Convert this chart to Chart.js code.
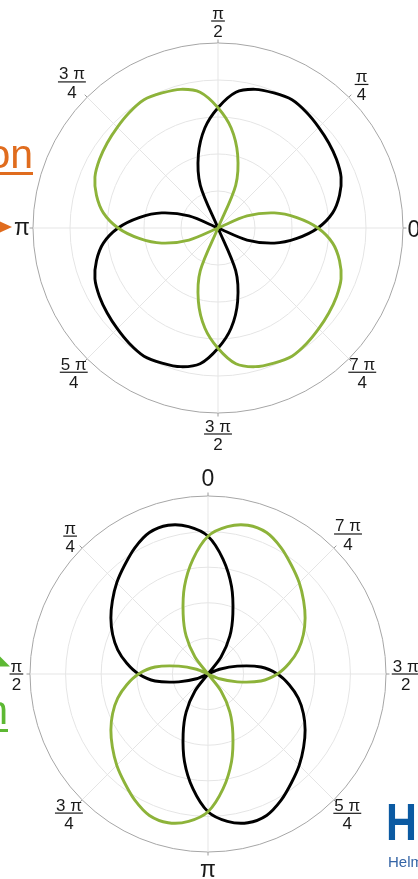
<!DOCTYPE html>
<html>
<head>
<meta charset="utf-8">
<script src="https://cdn.jsdelivr.net/npm/chart.js@4/dist/chart.umd.min.js"></script>
<style>
  html, body { margin: 0; padding: 0; background: #fff; }
  body { width: 418px; height: 879px; position: relative; overflow: hidden; font-family: "Liberation Sans", Arial, sans-serif; }
  canvas { position: absolute; left: 0; }
  #topPlot { top: 0; }
  #bottomPlot { top: 450px; }
  .word { position: absolute; font-size: 41px; line-height: 40px; white-space: nowrap; }
  .rule { position: absolute; height: 2.5px; }
  #logoH { position: absolute; left: 386px; top: 797px; font: bold 51px/51px "Liberation Sans", Arial, sans-serif; color: #0b5aa2; transform: scaleX(0.84); transform-origin: left top; }
  #logoText { position: absolute; left: 388px; top: 854px; font: 15px/15px "Liberation Sans", Arial, sans-serif; color: #3565a6; white-space: nowrap; }
</style>
</head>
<body>
<canvas id="topPlot" width="418" height="450"></canvas>
<canvas id="bottomPlot" width="418" height="429"></canvas>

<div class="word" style="right:385px; top:134px; color:#e06c1e;">on</div>
<div class="rule" style="left:0; top:172px; width:33px; background:#e06c1e;"></div>
<svg style="position:absolute; left:0; top:0;" width="20" height="240">
  <polygon points="0,221.5 12,227 0,232.5" fill="#e06c1e"/>
</svg>

<div class="word" style="right:410px; top:690px; color:#5db833;">n</div>
<div class="rule" style="left:0; top:729px; width:8px; background:#5db833;"></div>
<svg style="position:absolute; left:0; top:650px;" width="20" height="20">
  <polygon points="0,6.5 10,16.5 0,16.5" fill="#5db833"/>
</svg>

<div id="logoH">H</div>
<div id="logoText">Helmholtz</div>

<script>
// angle samples in degrees, counter-clockwise from the zero direction
const angles = [0, 7.5, 15, 22.5, 30, 37.5, 45, 52.5, 60, 67.5, 75, 82.5,
  90, 97.5, 105, 112.5, 120, 127.5, 135, 142.5, 150, 157.5, 165, 172.5,
  180, 187.5, 195, 202.5, 210, 217.5, 225, 232.5, 240, 247.5, 255, 262.5,
  270, 277.5, 285, 292.5, 300, 307.5, 315, 322.5, 330, 337.5, 345, 352.5];

// upper plot, radius (outer ring = 1)
const topBlack = [0.54, 0.625, 0.68, 0.72, 0.74, 0.755, 0.77, 0.787, 0.80, 0.79, 0.776, 0.74,
  0.65, 0.545, 0.41, 0.25, 0, 0, 0, 0, 0, 0.17, 0.315, 0.43,
  0.54, 0.625, 0.68, 0.72, 0.74, 0.755, 0.77, 0.787, 0.80, 0.79, 0.776, 0.74,
  0.65, 0.545, 0.41, 0.25, 0, 0, 0, 0, 0, 0.17, 0.315, 0.43];
const topGreen = [0.54, 0.43, 0.315, 0.17, 0, 0, 0, 0, 0, 0.25, 0.41, 0.545,
  0.65, 0.74, 0.776, 0.79, 0.80, 0.787, 0.77, 0.755, 0.74, 0.72, 0.68, 0.625,
  0.54, 0.43, 0.315, 0.17, 0, 0, 0, 0, 0, 0.25, 0.41, 0.545,
  0.65, 0.74, 0.776, 0.79, 0.80, 0.787, 0.77, 0.755, 0.74, 0.72, 0.68, 0.625];

// lower plot
const bottomBlack = [0.774, 0.835, 0.865, 0.86, 0.82, 0.77, 0.725, 0.677, 0.63, 0.58, 0.525, 0.46,
  0.39, 0.30, 0.17, 0.07, 0, 0, 0, 0.12, 0.245, 0.365, 0.51, 0.65,
  0.774, 0.835, 0.865, 0.86, 0.82, 0.77, 0.725, 0.677, 0.63, 0.58, 0.525, 0.46,
  0.39, 0.30, 0.17, 0.07, 0, 0, 0, 0.12, 0.245, 0.365, 0.51, 0.65];
const bottomGreen = [0.774, 0.65, 0.51, 0.365, 0.245, 0.12, 0, 0, 0, 0.07, 0.17, 0.30,
  0.39, 0.46, 0.525, 0.58, 0.63, 0.677, 0.725, 0.77, 0.82, 0.86, 0.865, 0.835,
  0.774, 0.65, 0.51, 0.365, 0.245, 0.12, 0, 0, 0, 0.07, 0.17, 0.30,
  0.39, 0.46, 0.525, 0.58, 0.63, 0.677, 0.725, 0.77, 0.82, 0.86, 0.865, 0.835];

// axis labels every 45 degrees
const tickAngles = [0, 45, 90, 135, 180, 225, 270, 315];
const topTickLabels = ['0', 'π/4', 'π/2', '3 π/4', 'π', '5 π/4', '3 π/2', '7 π/4'];
const bottomTickLabels = ['0', 'π/4', 'π/2', '3 π/4', 'π', '5 π/4', '3 π/2', '7 π/4'];

const STEP = 7.5;
const N = angles.length;
const GREEN = '#8db33a';
const FONT = '"Liberation Sans", Arial, sans-serif';

// radar indices run clockwise, so walk the angle list backwards
function radarIndex(deg) {
  return (N - Math.round(deg / STEP)) % N;
}
function toRadar(values) {
  return values.map((v, i) => values[(N - i) % N]);
}

function drawTickLabel(ctx, text, x, y) {
  const parts = text.split('/');
  ctx.fillStyle = '#1a1a1a';
  ctx.textAlign = 'center';
  ctx.textBaseline = 'alphabetic';
  if (parts.length === 1) {
    ctx.font = '23px ' + FONT;
    const m = ctx.measureText(text);
    ctx.fillText(text, x, y + (m.actualBoundingBoxAscent - m.actualBoundingBoxDescent) / 2);
    return;
  }
  ctx.font = '17px ' + FONT;
  const w = ctx.measureText(parts[0]).width + 2;
  ctx.fillText(parts[0], x, y - 2.5);
  ctx.fillText(parts[1], x, y + 16);
  ctx.fillRect(x - w / 2, y - 0.6, w, 1.2);
}

const polarLabels = {
  id: 'polarLabels',
  afterDraw(chart, args, opts) {
    const scale = chart.scales.r;
    const ctx = chart.ctx;
    ctx.save();
    tickAngles.forEach((deg, k) => {
      const idx = radarIndex(deg);
      // short outward tick on the outer ring
      const a = scale.getPointPosition(idx, scale.drawingArea);
      const b = scale.getPointPosition(idx, scale.drawingArea + 3.5);
      ctx.strokeStyle = '#9a9a9a';
      ctx.lineWidth = 1;
      ctx.beginPath();
      ctx.moveTo(a.x, a.y);
      ctx.lineTo(b.x, b.y);
      ctx.stroke();
      const p = scale.getPointPosition(idx, scale.drawingArea + opts.gaps[k]);
      drawTickLabel(ctx, opts.labels[k], p.x, p.y);
    });
    ctx.restore();
  }
};

function makePolar(canvasId, black, green, startAngle, tickLabels, gaps, padding) {
  const ctx = document.getElementById(canvasId).getContext('2d');
  return new Chart(ctx, {
    type: 'radar',
    data: {
      labels: toRadar(angles).map(String),
      datasets: [
        { data: toRadar(green), borderColor: GREEN },
        { data: toRadar(black), borderColor: '#000000' }
      ]
    },
    options: {
      responsive: false,
      animation: false,
      events: [],
      layout: { padding: padding },
      elements: {
        line: { borderWidth: 2.9, tension: 0.3, fill: false, borderJoinStyle: 'round' },
        point: { radius: 0, hoverRadius: 0 }
      },
      plugins: {
        legend: { display: false },
        tooltip: { enabled: false },
        polarLabels: { labels: tickLabels, gaps: gaps }
      },
      scales: {
        r: {
          min: 0,
          max: 1,
          startAngle: startAngle,
          ticks: { display: false, stepSize: 0.2 },
          pointLabels: { display: false },
          grid: {
            circular: true,
            color: c => c.index === 5 ? '#a6a6a6' : '#e5e5e5',
            lineWidth: 1
          },
          angleLines: {
            color: '#e5e5e5',
            lineWidth: c => c.index % 6 === 0 ? 1 : 0
          }
        }
      }
    },
    plugins: [polarLabels]
  });
}

makePolar('topPlot', topBlack, topGreen, 90, topTickLabels,
  [10.8, 18, 22, 21.6, 11, 19, 21, 19],
  { left: 33, right: 15, top: 43, bottom: 37 });

makePolar('bottomPlot', bottomBlack, bottomGreen, 0, bottomTickLabels,
  [18.5, 17, 13.6, 18.7, 18.5, 19, 19.7, 20],
  { left: 30, right: 32, top: 46, bottom: 27 });
</script>
</body>
</html>
